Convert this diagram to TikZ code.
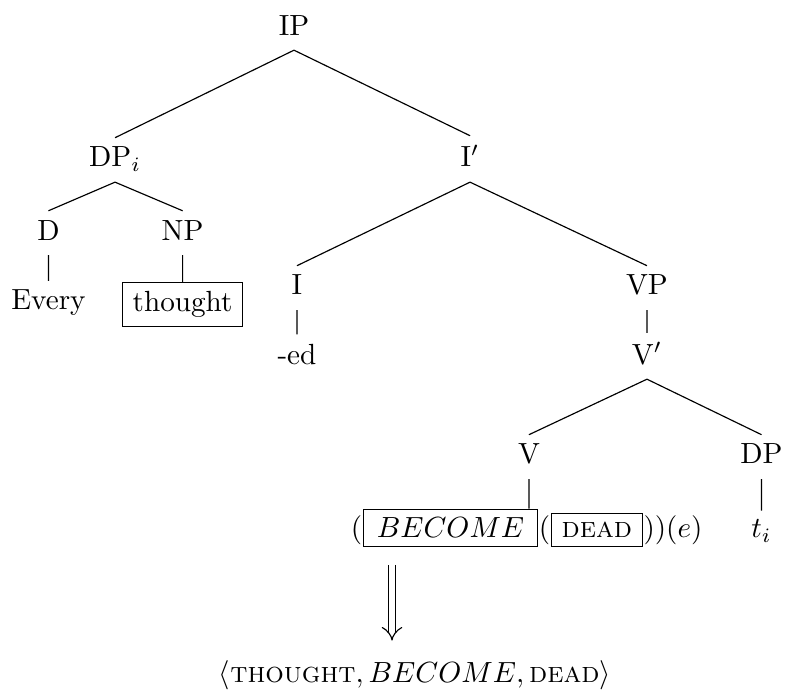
\documentclass[tikz,border=0pt]{standalone}
\usepackage{amsmath}
\usepackage{amssymb}
\usetikzlibrary{arrows.meta}

\begin{document}
\begin{tikzpicture}
	\tikzset{tnode/.style={inner sep=3pt,text depth=2pt,anchor=base},
		boxnode/.style={draw,inner xsep=3.5pt,inner ysep=3pt}
	}
    \useasboundingbox (0,0) rectangle (9.47,-8.313);
    \node [tnode] (ip) at (3.542,-0.422) {IP};
    \node [tnode] (dp) at (1.386,-2.012) {DP$_i$};
    \node [tnode] (ibar) at (5.663,-2.012) {I$'$};
    \node [tnode] (d) at (0.584,-2.892) {D};
    \node [tnode] (np) at (2.200,-2.892) {NP};
    \node [tnode] (every) at (0.584,-3.735) {Every};
    \node [boxnode] (thought) at (2.200,-3.669) {thought};
    \node [tnode] (i) at (3.578,-3.554) {I};
    \node [tnode] (vp) at (7.795,-3.554) {VP};
    \node [tnode] (ed) at (3.578,-4.386) {-ed};
    \node [tnode] (vbar) at (7.795,-4.386) {V$'$};
    \node [tnode] (v) at (6.373,-5.590) {V};
    \node [tnode] (dpt) at (9.175,-5.590) {DP};
    \node [tnode] (t) at (9.175,-6.482) {$t_i$};

    % the formula under V
    \node [boxnode,inner xsep=4.6pt,anchor=base] (become) at (5.428,-6.482) {$BECOME$};
    \node [anchor=base east,inner sep=0pt] (lpar) at (become.base west) {$($};
    \node [anchor=base west,inner sep=0pt] (mpar) at (become.base east) {$($};
    \node [boxnode,anchor=base west] (dead) at (mpar.base east) {\textsc{dead}};
    \node [anchor=base west,inner sep=0pt] (rpar) at (dead.base east) {$))(e)$};

    \node [tnode] (res) at (5.0,-8.217) {$\langle\textsc{thought}, BECOME, \textsc{dead}\rangle$};
    \coordinate (arr) at (4.723,0);

    \draw (ip.south) -- (dp.north)
    	  (ip.south) -- (ibar.north)
    	  (dp.south) -- (d.north)
    	  (dp.south) -- (np.north)
    	  (d.south) -- (every.north)
    	  (np.south) -- (thought.north)
    	  (ibar.south) -- (i.north)
    	  (ibar.south) -- (vp.north)
    	  (i.south) -- (ed.north)
    	  (vp.south) -- (vbar.north)
    	  (vbar.south) -- (v.north)
    	  (vbar.south) -- (dpt.north)
    	  (v.south) -- (v.south |- become.north)
    	  (dpt.south) -- (t.north);
    \draw [double,double distance=2.1pt,-{Implies},shorten <=6pt,shorten >=3.5pt]
    	  (arr |- become.south) -- (arr |- res.north);
	\end{tikzpicture}
\end{document}
